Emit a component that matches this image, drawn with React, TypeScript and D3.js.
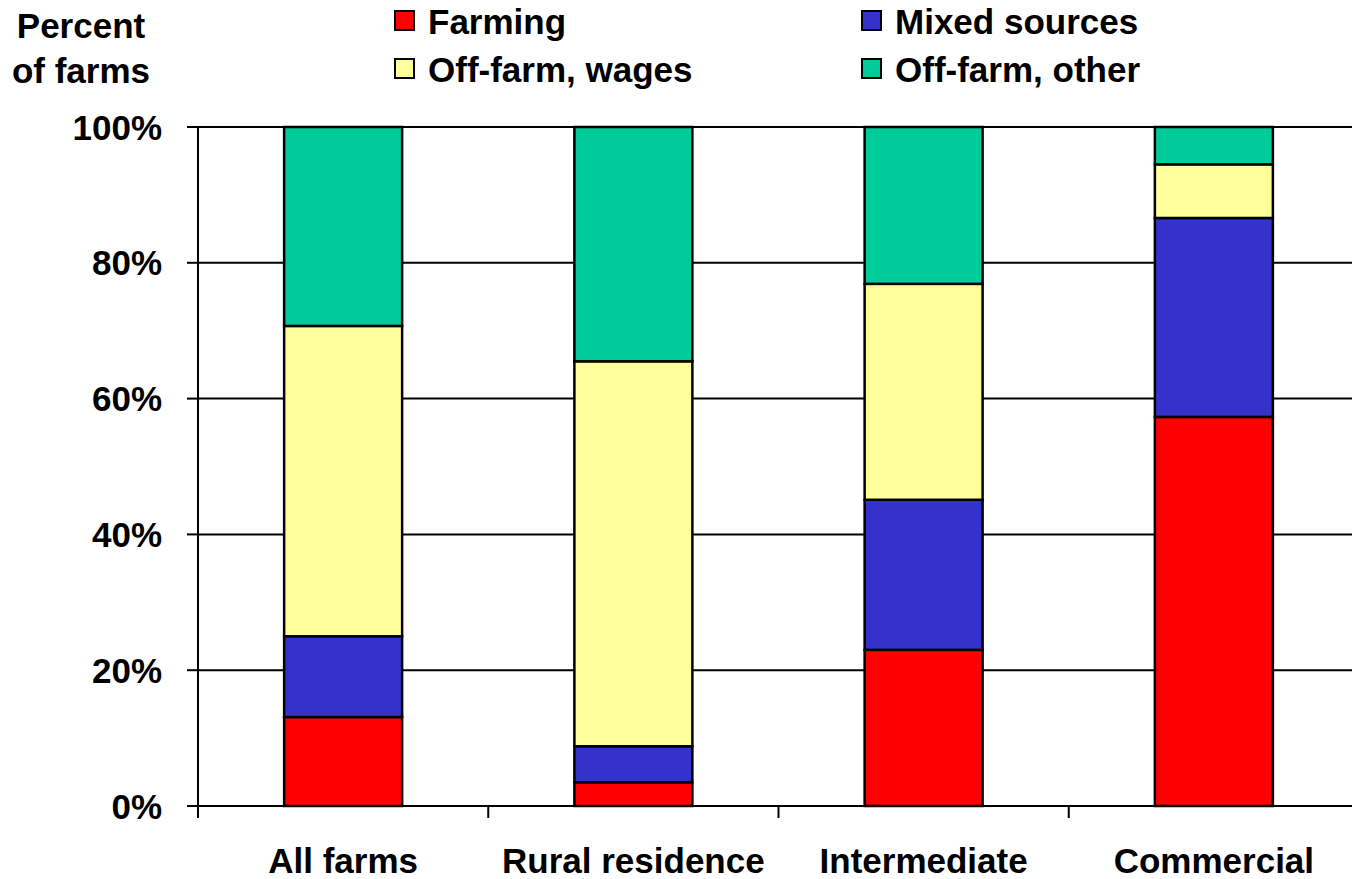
import React from "react";
import * as d3 from "d3";

const categories = ["All farms", "Rural residence", "Intermediate", "Commercial"];
const seriesNames = ["Farming", "Mixed sources", "Off-farm, wages", "Off-farm, other"];
const farming = [13.1, 3.5, 23.0, 57.3];
const mixedSources = [11.9, 5.3, 22.1, 29.3];
const offFarmWages = [45.7, 56.7, 31.8, 7.9];
const offFarmOther = [29.3, 34.5, 23.1, 5.5];
const yTicks = [0, 20, 40, 60, 80, 100];
const colors = ["#FF0000", "#3333CC", "#FFFF99", "#00CC99"];

const W = 1352;
const H = 879;
const FONT = "'Liberation Sans', Arial, sans-serif";
const FS = 35;

export default function App() {
  const x0 = 198;
  const step = 290.25;
  const x = d3
    .scaleBand<string>()
    .domain(categories)
    .range([x0, x0 + step * categories.length])
    .paddingInner(0.5935)
    .paddingOuter(0.5935 / 2);
  const y = d3.scaleLinear().domain([0, 100]).range([806, 127]);

  const rows = categories.map((c, i) => ({
    cat: c,
    Farming: farming[i],
    "Mixed sources": mixedSources[i],
    "Off-farm, wages": offFarmWages[i],
    "Off-farm, other": offFarmOther[i],
  }));
  const stacked = d3.stack<any>().keys(seriesNames)(rows);

  const legend = [
    { name: seriesNames[0], color: colors[0], x: 395, y: 34 },
    { name: seriesNames[2], color: colors[2], x: 395, y: 82 },
    { name: seriesNames[1], color: colors[1], x: 862, y: 34 },
    { name: seriesNames[3], color: colors[3], x: 862, y: 82 },
  ];

  const tickXs = [x0, ...categories.map((_, i) => x0 + step * (i + 1))];

  return (
    <svg
      width={W}
      height={H}
      style={{ position: "absolute", left: 0, top: 0, background: "#fff" }}
      fontFamily={FONT}
      fontWeight="bold"
    >
      {yTicks.map((t) => (
        <line key={"g" + t} x1={x0} x2={W} y1={y(t)} y2={y(t)} stroke="#000" strokeWidth={2} />
      ))}
      <line x1={x0} x2={x0} y1={y(100)} y2={818} stroke="#000" strokeWidth={2} />
      {yTicks.map((t) => (
        <g key={"yt" + t}>
          <line x1={187} x2={x0} y1={y(t)} y2={y(t)} stroke="#000" strokeWidth={2} />
          <text x={162} y={y(t)} dy="0.36em" textAnchor="end" fontSize={FS} fill="#000">
            {t}%
          </text>
        </g>
      ))}
      {tickXs.map((tx, i) => (
        <line key={"xt" + i} x1={tx} x2={tx} y1={y(0)} y2={818} stroke="#000" strokeWidth={2} />
      ))}
      {stacked.map((s, si) => (
        <g key={s.key} fill={colors[si]}>
          {s.map((d, i) => (
            <rect
              key={i}
              x={x(categories[i])}
              width={x.bandwidth()}
              y={y(d[1])}
              height={y(d[0]) - y(d[1])}
              stroke="#000"
              strokeWidth={2.5}
            />
          ))}
        </g>
      ))}
      {categories.map((c) => (
        <text
          key={c}
          x={(x(c) as number) + x.bandwidth() / 2}
          y={873}
          textAnchor="middle"
          fontSize={FS}
          fill="#000"
        >
          {c}
        </text>
      ))}
      <text x={81} y={38} textAnchor="middle" fontSize={FS} fill="#000">
        Percent
      </text>
      <text x={81} y={83} textAnchor="middle" fontSize={FS} fill="#000">
        of farms
      </text>
      {legend.map((l) => (
        <g key={l.name}>
          <rect x={l.x} y={l.y - 23} width={19} height={19} fill={l.color} stroke="#000" strokeWidth={2} />
          <text x={l.x + 33} y={l.y} fontSize={FS} fill="#000">
            {l.name}
          </text>
        </g>
      ))}
    </svg>
  );
}
